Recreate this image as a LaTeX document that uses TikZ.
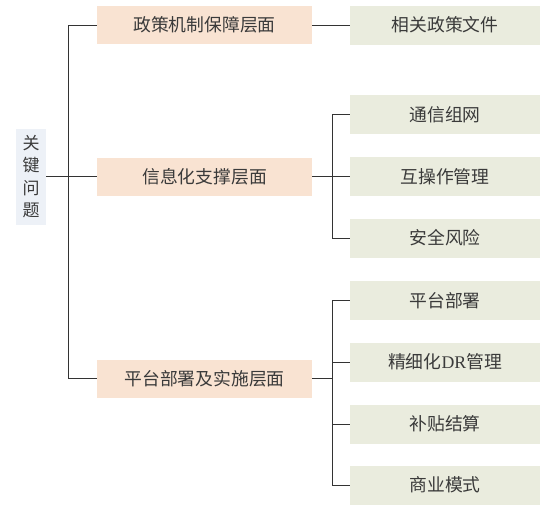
\documentclass[tikz,border=0pt]{standalone}
\usepackage{fontspec}
\setmainfont{Liberation Serif}
\newfontfamily\cjk{Noto Sans CJK SC}
\newfontfamily\latin{Liberation Serif}
\usetikzlibrary{positioning}
\definecolor{P}{RGB}{249, 227, 210}
\definecolor{G}{RGB}{234, 236, 222}
\definecolor{L}{RGB}{237, 241, 247}
\definecolor{T}{RGB}{58, 58, 58}

\begin{document}
\begin{tikzpicture}[x=1pt,y=-1pt,
  raiz/.style={fill=L, text=T, minimum width=30pt, minimum height=96pt, inner sep=0pt,
    align=center, font=\cjk\fontsize{17}{22.5}\selectfont},
  nivel/.style={fill=P, text=T, minimum width=215pt, minimum height=38pt, inner sep=0pt,
    font=\cjk\fontsize{17.8}{20}\selectfont},
  hoja/.style={fill=G, text=T, minimum width=190pt, minimum height=39pt, inner sep=0pt,
    font=\cjk\fontsize{17.8}{20}\selectfont},
  linea/.style={black!80, line width=0.9pt}]
  \useasboundingbox (0,0) rectangle (548,517);

  %# RAIZ
  \node[raiz] (raiz) at (31,176.5) {关\\键\\问\\题};

  %# NIVELES
  \node[nivel] (pol) at (204.5,25) {政策机制保障层面};
  \node[nivel] (inf) at (204.5,176.5) {信息化支撑层面};
  \node[nivel] (pla) at (204.5,378.5) {平台部署及实施层面};

  %# HOJAS
  \node[hoja] (doc) at (445,25) {相关政策文件};
  \node[hoja] (red) at (445,114.5) {通信组网};
  \node[hoja] (ope) at (445,176.5) {互操作管理};
  \node[hoja] (rie) at (445,238) {安全风险};
  \node[hoja] (dep) at (445,300.5) {平台部署};
  \node[hoja] (dr) at (445,362) {精细化{\latin DR}管理};
  \node[hoja] (sub) at (445,424) {补贴结算};
  \node[hoja] (neg) at (445,485) {商业模式};

  %# CONECTORES
  \coordinate (tr) at (68,176.5);
  \coordinate (b1) at (332,176.5);
  \coordinate (b2) at (332,378.5);

  \draw[linea] (raiz.east) -- (inf.west);
  \draw[linea] (pol.west) -- (pol.west -| tr) -- (pla.west -| tr) -- (pla.west);
  \draw[linea] (pol.east) -- (doc.west);

  \draw[linea] (inf.east) -- (b1) -- (ope.west);
  \draw[linea] (red.west) -- (red.west -| b1) -- (rie.west -| b1) -- (rie.west);

  \draw[linea] (pla.east) -- (b2);
  \draw[linea] (dep.west) -- (dep.west -| b2) -- (neg.west -| b2) -- (neg.west);
  \draw[linea] (dr.west -| b2) -- (dr.west);
  \draw[linea] (sub.west -| b2) -- (sub.west);
\end{tikzpicture}
\end{document}
